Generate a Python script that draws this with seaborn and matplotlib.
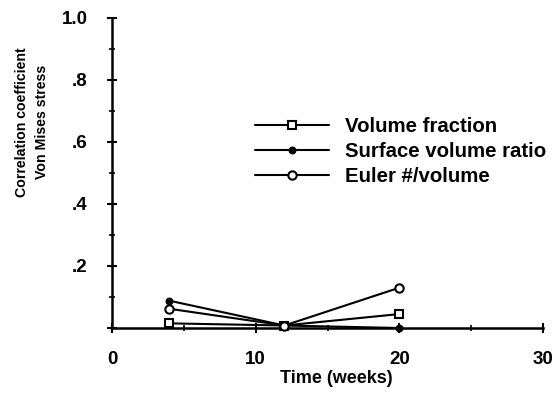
import matplotlib
matplotlib.use("Agg")
import matplotlib.pyplot as plt
import pandas as pd
import seaborn as sns
from matplotlib.ticker import MultipleLocator

# valores
semanas = [4, 12, 20]
fracao_volume = [0.015, 0.008, 0.045]
razao_superficie = [0.088, 0.008, 0.0]
euler_volume = [0.062, 0.008, 0.13]

series = [
    ("Volume fraction", fracao_volume, "s", "white", 5.5),
    ("Surface volume ratio", razao_superficie, "o", "black", 4.2),
    ("Euler #/volume", euler_volume, "o", "white", 6.0),
]

sns.set_theme(style="white")
plt.rcParams["font.family"] = ["Liberation Sans", "DejaVu Sans"]
plt.rcParams["font.weight"] = "bold"

fig = plt.figure(figsize=(5.58, 3.95), dpi=100)
ax = fig.add_axes([112 / 558, 1 - 328 / 395, (543 - 112) / 558, (328 - 18) / 395])

for nome, valores, marcador, preenchimento, tam in series:
    df = pd.DataFrame({"semana": semanas, "valor": valores})
    sns.lineplot(data=df, x="semana", y="valor", ax=ax, color="black",
                 linewidth=1.5, marker=marcador, markersize=tam,
                 markerfacecolor=preenchimento, markeredgecolor="black",
                 markeredgewidth=1.5, label=nome, clip_on=False, zorder=3)

ax.set_xlim(0, 30)
ax.set_ylim(0, 1.0)
ax.xaxis.set_minor_locator(MultipleLocator(5))
ax.yaxis.set_minor_locator(MultipleLocator(0.1))
ax.set_yticks([0, 0.2, 0.4, 0.6, 0.8, 1.0])
ax.set_yticklabels(["", ".2", ".4", ".6", ".8", "1.0"])
ax.set_xticks([0, 10, 20, 30])
ax.set_xticklabels(["0", "10", "20", "30"])

for lado in ["top", "right"]:
    ax.spines[lado].set_visible(False)
for lado in ["left", "bottom"]:
    ax.spines[lado].set_linewidth(1.8)
    ax.spines[lado].set_color("black")

ax.tick_params(axis="both", which="both", direction="inout", color="black",
               labelsize=13.5, labelcolor="black", bottom=True, left=True)
ax.tick_params(axis="both", which="major", length=7, width=1.5)
ax.tick_params(axis="both", which="minor", length=5, width=1.2)
ax.tick_params(axis="x", which="major", pad=13)
ax.tick_params(axis="y", which="major", pad=14)

ax.set_xlabel("Time (weeks)", fontsize=13, fontweight="bold", color="black")
ax.xaxis.set_label_coords(0.52, -0.135)
ax.set_ylabel("Correlation coefficient\nVon Mises stress", fontsize=10.2,
              fontweight="bold", color="black", linespacing=1.55)
ax.yaxis.set_label_coords(-0.147, 0.665)

ax.legend(loc="upper left", bbox_to_anchor=(255 / 558, 1 - 117 / 395),
          bbox_transform=fig.transFigure, frameon=False, fontsize=14.7,
          handlelength=3.6, handletextpad=0.8, labelspacing=0.3,
          borderpad=0, borderaxespad=0, labelcolor="black")

fig.savefig("out.png", dpi=100)
